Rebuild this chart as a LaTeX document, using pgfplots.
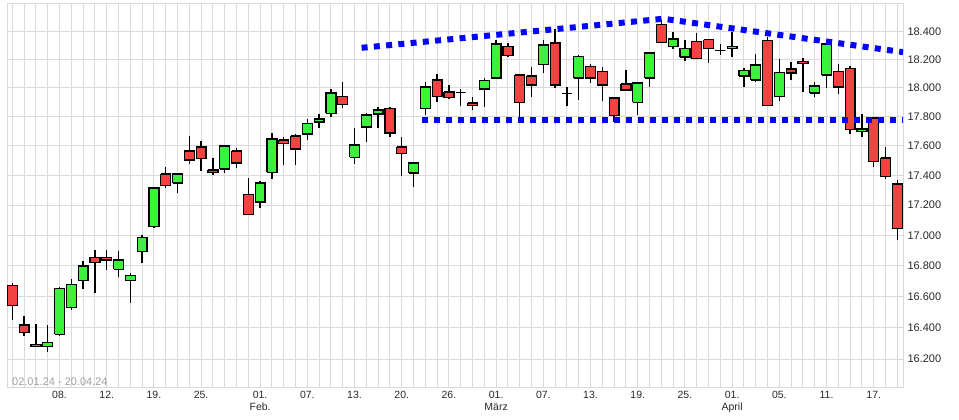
\documentclass[border=0pt]{standalone}
\usepackage{pgfplots}
\usepackage{pgfplotstable}
\pgfplotsset{compat=1.18}
\usepackage{fontspec}
\setmainfont{Liberation Sans}
\definecolor{gridgray}{RGB}{218,218,218}
\definecolor{cred}{RGB}{243,66,66}
\definecolor{cgreen}{RGB}{61,242,61}
\definecolor{tblue}{RGB}{5,5,250}
\definecolor{lblgray}{RGB}{40,40,40}
\definecolor{rangegray}{RGB}{160,160,160}

% values in thousands of points (18.400 = 18400)
\pgfplotstableread{
i o h l c
0 16.668 16.688 16.450 16.542
1 16.416 16.475 16.350 16.371
2 16.295 16.424 16.276 16.280
3 16.280 16.417 16.248 16.308
4 16.358 16.660 16.350 16.653
5 16.531 16.714 16.514 16.679
6 16.705 16.831 16.649 16.798
7 16.855 16.903 16.619 16.823
8 16.855 16.903 16.772 16.836
9 16.777 16.897 16.729 16.836
10 16.705 16.753 16.561 16.738
11 16.892 17.002 16.820 16.987
12 17.057 17.320 17.044 17.314
13 17.408 17.455 17.311 17.334
14 17.347 17.419 17.284 17.408
15 17.564 17.669 17.480 17.503
16 17.592 17.635 17.432 17.515
17 17.435 17.517 17.401 17.420
18 17.442 17.607 17.415 17.598
19 17.564 17.585 17.446 17.483
20 17.273 17.381 17.130 17.137
21 17.220 17.363 17.177 17.347
22 17.420 17.690 17.378 17.647
23 17.640 17.662 17.471 17.618
24 17.667 17.683 17.471 17.578
25 17.681 17.786 17.638 17.757
26 17.763 17.819 17.726 17.784
27 17.823 17.995 17.802 17.965
28 17.944 18.044 17.857 17.888
29 17.523 17.724 17.478 17.605
30 17.729 17.826 17.623 17.812
31 17.819 17.867 17.726 17.846
32 17.860 17.867 17.664 17.688
33 17.592 17.664 17.398 17.548
34 17.415 17.483 17.318 17.483
35 17.860 18.044 17.809 18.007
36 18.056 18.100 17.906 17.944
37 17.972 18.021 17.927 17.935
38 17.967 17.993 17.871 17.967
39 17.895 17.937 17.844 17.878
40 17.993 18.070 17.864 18.051
41 18.070 18.336 18.070 18.310
42 18.296 18.317 18.222 18.232
43 18.091 18.098 17.798 17.902
44 18.084 18.147 17.941 18.021
45 18.168 18.341 18.102 18.303
46 18.317 18.417 17.997 18.021
47 17.960 18.007 17.871 17.960
48 18.070 18.232 17.918 18.225
49 18.154 18.168 18.032 18.070
50 18.119 18.147 17.913 18.021
51 17.930 17.937 17.767 17.809
52 18.028 18.128 17.979 17.986
53 17.902 18.044 17.809 18.035
54 18.070 18.255 18.004 18.246
55 18.446 18.479 18.320 18.324
56 18.296 18.393 18.272 18.346
57 18.218 18.341 18.187 18.282
58 18.332 18.386 18.205 18.208
59 18.341 18.346 18.175 18.279
60 18.265 18.310 18.232 18.265
61 18.282 18.396 18.218 18.296
62 18.084 18.140 18.007 18.126
63 18.056 18.239 18.046 18.161
64 18.339 18.364 17.878 17.881
65 17.944 18.204 17.913 18.112
66 18.133 18.182 18.053 18.105
67 18.190 18.211 17.976 18.175
68 17.965 18.042 17.934 18.014
69 18.091 18.312 18.000 18.310
70 18.119 18.168 17.958 18.007
71 18.140 18.154 17.681 17.710
72 17.697 17.821 17.664 17.715
73 17.791 17.795 17.459 17.496
74 17.517 17.592 17.378 17.394
75 17.340 17.369 16.969 17.042
}\candles

\begin{document}
\begin{tikzpicture}
\useasboundingbox (0,0) rectangle (959pt,420pt);
\begin{axis}[
  at={(7pt,32pt)}, anchor=south west,
  width=896pt, height=384.7pt, scale only axis,
  xmin=-0.45, xmax=75.48,
  ymode=log, ymin=16.020, ymax=18.603,
  axis line style={draw=gridgray, line width=1pt},
  xtick={4,8,12,16,21,25,29,33,37,41,45,49,53,57,61,65,69,73},
  xticklabels={08.,12.,19.,25.,{01.\\Feb.},07.,13.,20.,26.,{01.\\März},07.,13.,19.,25.,{01.\\April},05.,11.,17.},
  xticklabel style={align=center, font=\fontsize{10.5}{11.7}\selectfont, text=lblgray, inner sep=0pt, yshift=-3pt},
  minor xtick={0,...,75},
  xmajorgrids, xminorgrids,
  ytick={16.2,16.4,16.6,16.8,17.0,17.2,17.4,17.6,17.8,18.0,18.2,18.4},
  yticklabels={16.200,16.400,16.600,16.800,17.000,17.200,17.400,17.600,17.800,18.000,18.200,18.400},
  minor ytick={},
  ymajorgrids,
  yticklabel pos=right,
  yticklabel style={anchor=west, font=\fontsize{11}{13}\selectfont, text=lblgray, inner sep=0pt, xshift=4.3pt},
  major grid style={draw=gridgray, line width=1pt},
  minor grid style={draw=gridgray, line width=1pt},
  major tick length=0pt, minor tick length=0pt,
  tick style={draw=none},
]
\pgfplotsforeachungrouped \k in {0,...,75}{%
  \pgfplotstablegetelem{\k}{o}\of\candles \let\vo\pgfplotsretval
  \pgfplotstablegetelem{\k}{h}\of\candles \let\vh\pgfplotsretval
  \pgfplotstablegetelem{\k}{l}\of\candles \let\vl\pgfplotsretval
  \pgfplotstablegetelem{\k}{c}\of\candles \let\vc\pgfplotsretval
  \ifdim\vc pt>\vo pt \def\col{cgreen}\else\def\col{cred}\fi
  \pgfmathsetmacro\xa{\k-0.42}%
  \pgfmathsetmacro\xb{\k+0.42}%
  \edef\temp{%
    \noexpand\addplot[black, line width=1.3pt, forget plot] coordinates {(\k,\vl) (\k,\vh)};
    \noexpand\addplot[draw=black, line width=1.3pt, fill=\col, forget plot] coordinates {(\xa,\vo) (\xb,\vo) (\xb,\vc) (\xa,\vc) (\xa,\vo)};
  }%
  \temp
}
\addplot[tblue, line width=6pt, dash pattern=on 6pt off 6.3pt, forget plot] coordinates {(29.6,18.283) (55.17,18.491) (75.48,18.252)};
\addplot[tblue, line width=6pt, dash pattern=on 6pt off 6pt, forget plot] coordinates {(34.72,17.781) (75.48,17.781)};
\node[anchor=south west, inner sep=0pt, text=rangegray, font=\fontsize{11}{13}\selectfont] at (rel axis cs:0,0) [xshift=5pt, yshift=2pt] {02.01.24 - 20.04.24};
\end{axis}
\end{tikzpicture}
\end{document}
